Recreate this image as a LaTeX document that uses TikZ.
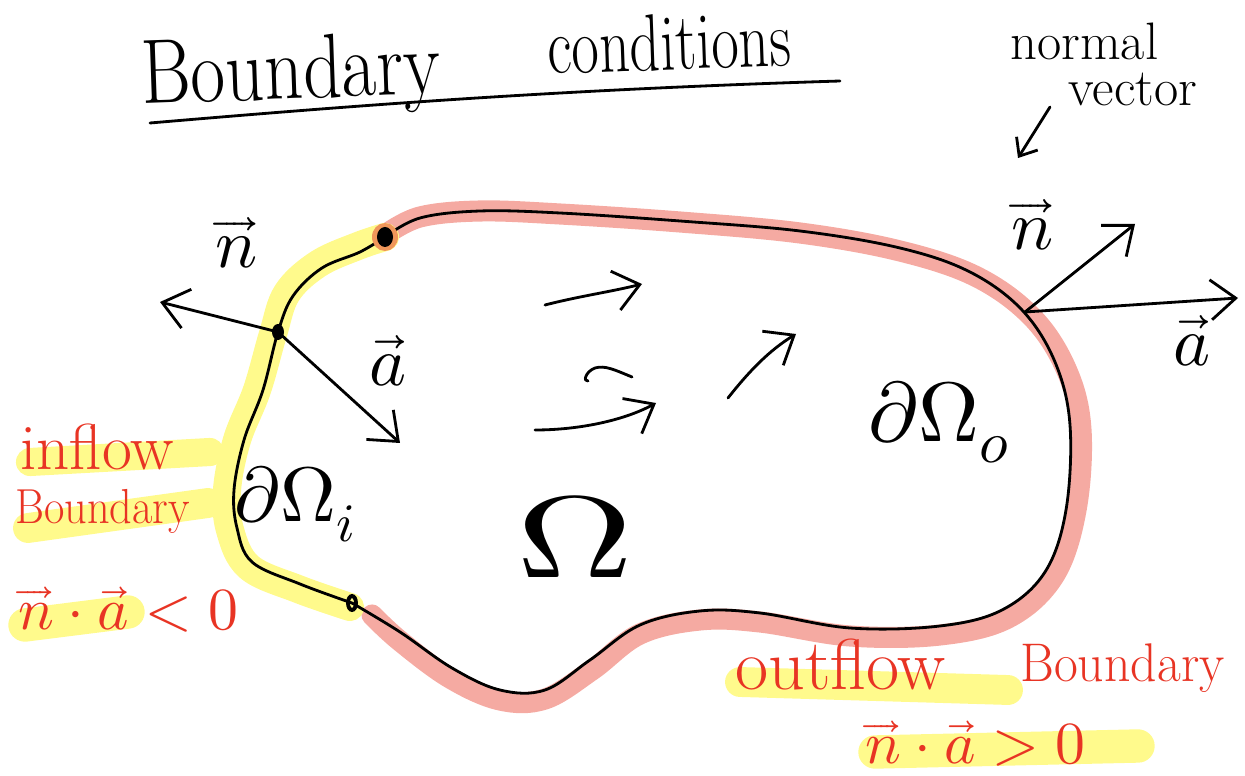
\documentclass[tikz,border=0pt]{standalone}
\usepackage{fontspec}
\usepackage{unicode-math}
\setmathfont{Latin Modern Math}
\usetikzlibrary{arrows.meta}
\definecolor{pinkhl}{RGB}{245,170,162}
\definecolor{yellowhl}{RGB}{255,250,140}
\definecolor{redink}{RGB}{232,52,36}
\definecolor{orangeglow}{RGB}{240,150,90}
\begin{document}
\begin{tikzpicture}[x=0.02cm,y=-0.02cm,
  ink/.style={line width=1.6pt, line cap=round, line join=round},
  vecarrow/.style={ink, -{Straight Barb[length=0.5cm,width=0.8cm,line width=1.6pt]}},
  hl/.style={yellowhl, line cap=round, line width=#1},
  redtxt/.style={text=redink, inner sep=0pt},
  blacktxt/.style={text=black, inner sep=0pt}]
\useasboundingbox (0,0) rectangle (1245,776);

% ---------- title ----------
\node[blacktxt, anchor=base west, rotate=2, font=\fontsize{52}{56}\selectfont] (tB) at (142,104) {\scalebox{0.83}[1]{Boundary}};
\node[blacktxt, anchor=base west, rotate=2, font=\fontsize{46}{50}\selectfont] (tC) at (548,74) {\scalebox{0.74}[1]{conditions}};
\coordinate (u1) at (150,123);
\coordinate (u2) at (840,81);
\draw[ink] (u1) .. controls (350,106) and (550,90) .. (u2);

% ---------- highlights ----------
\coordinate (pA) at (385,237);
\coordinate (pM) at (278,332);
\coordinate (pB) at (352,603);
\draw[pinkhl, line width=12pt, line cap=round, line join=round]
  plot[smooth, tension=0.6] coordinates {(385,235) (420,217) (480,211) (560,214) (680,222) (800,233) (900,251) (977,277) (1033,318) (1067,371) (1081,430) (1076,510) (1054,576) (1008,618) (940,635) (850,636) (760,622) (700,620) (640,634) (592,670) (545,699) (500,700) (450,678) (400,641) (372,615)};
\draw[hl=16pt, line join=round]
  plot[smooth, tension=0.6] coordinates {(350,607) (298,589) (249,567) (230,530) (227,490) (237,440) (257,390) (273,334) (287,293) (318,264) (358,246) (385,237)};

\draw[hl=16pt] (30,462) -- (210,452);
\draw[hl=17pt] (28,528) -- (208,503);
\draw[hl=19pt] (25,625) -- (128,612);
\draw[hl=17pt] (740,682) -- (1008,690);
\draw[hl=19pt] (875,752) -- (1138,746);

% ---------- boundary curve ----------
\draw[ink]
  plot[smooth, tension=0.6] coordinates {(385,237) (420,218) (480,211) (560,213) (680,221) (800,231) (900,248) (970,272) (1022,310) (1055,362) (1070,425) (1066,510) (1045,572) (1002,610) (940,626) (850,628) (760,613) (700,611) (640,625) (590,660) (545,690) (500,690) (452,668) (400,632) (352,603)};
\draw[ink]
  plot[smooth, tension=0.6] coordinates {(352,603) (300,584) (252,562) (237,528) (234,490) (244,440) (263,390) (278,332) (293,296) (322,268) (360,252) (385,237)};

% ---------- points ----------
\fill[orangeglow] (pA) ellipse (13 and 14);
\fill[black] (pA) ellipse (8 and 10);
\fill[black] (pM) ellipse (6 and 8);
\draw[line width=2.2pt] (pB) ellipse (4 and 7);
\coordinate (pR) at (1025,312);

% ---------- vectors at left point ----------
\coordinate (nL) at (160,302);
\coordinate (aL) at (400,443);
\draw[vecarrow] (pM) -- (nL);
\draw[vecarrow] (pM) -- (aL);
\node[blacktxt, anchor=base, font=\fontsize{40}{42}\selectfont] (lnL) at (237,268) {$\overrightarrow{n}$};
\node[blacktxt, anchor=base, font=\fontsize{40}{42}\selectfont] (laL) at (388,386) {$\overrightarrow{a}$};

% ---------- vectors at right point ----------
\coordinate (nR) at (1135,224);
\coordinate (aR) at (1238,298);
\draw[vecarrow] (pR) -- (nR);
\draw[vecarrow] (pR) -- (aR);
\node[blacktxt, anchor=base, font=\fontsize{40}{42}\selectfont] (lnR) at (1033,250) {$\overrightarrow{n}$};
\node[blacktxt, anchor=base, font=\fontsize{40}{42}\selectfont] (laR) at (1192,366) {$\overrightarrow{a}$};

% ---------- normal vector note ----------
\node[blacktxt, anchor=base west, font=\fontsize{30}{34}\selectfont] (nv1) at (1010,60) {normal};
\node[blacktxt, anchor=base west, font=\fontsize{30}{34}\selectfont] (nv2) at (1068,106) {vector};
\coordinate (nvs) at (1050,107);
\coordinate (nve) at (1018,158);
\draw[ink, -{Straight Barb[length=0.3cm,width=0.5cm,line width=1.6pt]}] (nvs) -- (nve);

% ---------- flow arrows ----------
\coordinate (f1s) at (545,305);
\coordinate (f1e) at (642,284);
\draw[vecarrow] (f1s) .. controls (580,296) and (610,292) .. (f1e);
\coordinate (f2s) at (535,430);
\coordinate (f2e) at (656,403);
\draw[vecarrow] (f2s) .. controls (580,430) and (625,420) .. (f2e);
\coordinate (f3s) at (728,398);
\coordinate (f3e) at (796,334);
\draw[vecarrow] (f3s) .. controls (750,370) and (770,350) .. (f3e);
\coordinate (sq1) at (632,377);
\coordinate (sq2) at (588,381);
\draw[ink] (sq1) .. controls (615,370) and (605,365) .. (595,368) .. controls (585,372) and (583,382) .. (sq2);

% ---------- domain labels ----------
\node[blacktxt, anchor=base west, font=\fontsize{44}{48}\selectfont] (dOi) at (234,522) {$\partial\Omega_{i}$};
\node[blacktxt, anchor=base, font=\fontsize{66}{70}\selectfont] (Om) at (575,578) {\scalebox{1.4}[1]{$\Omega$}};
\node[blacktxt, anchor=base west, font=\fontsize{48}{52}\selectfont] (dOo) at (868,442) {$\partial\Omega_{o}$};

% ---------- red annotations ----------
\node[redtxt, anchor=base west, font=\fontsize{37}{40}\selectfont] (infl) at (20,470) {inflow};
\node[redtxt, anchor=base west, font=\fontsize{28}{30}\selectfont] (inb) at (15,524) {\scalebox{0.9}[1]{Boundary}};
\node[redtxt, anchor=base west, font=\fontsize{34}{38}\selectfont] (inc) at (18,630) {$\overrightarrow{n}\cdot\overrightarrow{a}<0$};
\node[redtxt, anchor=base west, font=\fontsize{41}{44}\selectfont] (outf) at (735,690) {outflow};
\node[redtxt, anchor=base west, font=\fontsize{31}{34}\selectfont] (outb) at (1020,682) {\scalebox{0.95}[1]{Boundary}};
\node[redtxt, anchor=base west, font=\fontsize{34}{38}\selectfont] (outc) at (865,764) {$\overrightarrow{n}\cdot\overrightarrow{a}>0$};
\end{tikzpicture}
\end{document}
